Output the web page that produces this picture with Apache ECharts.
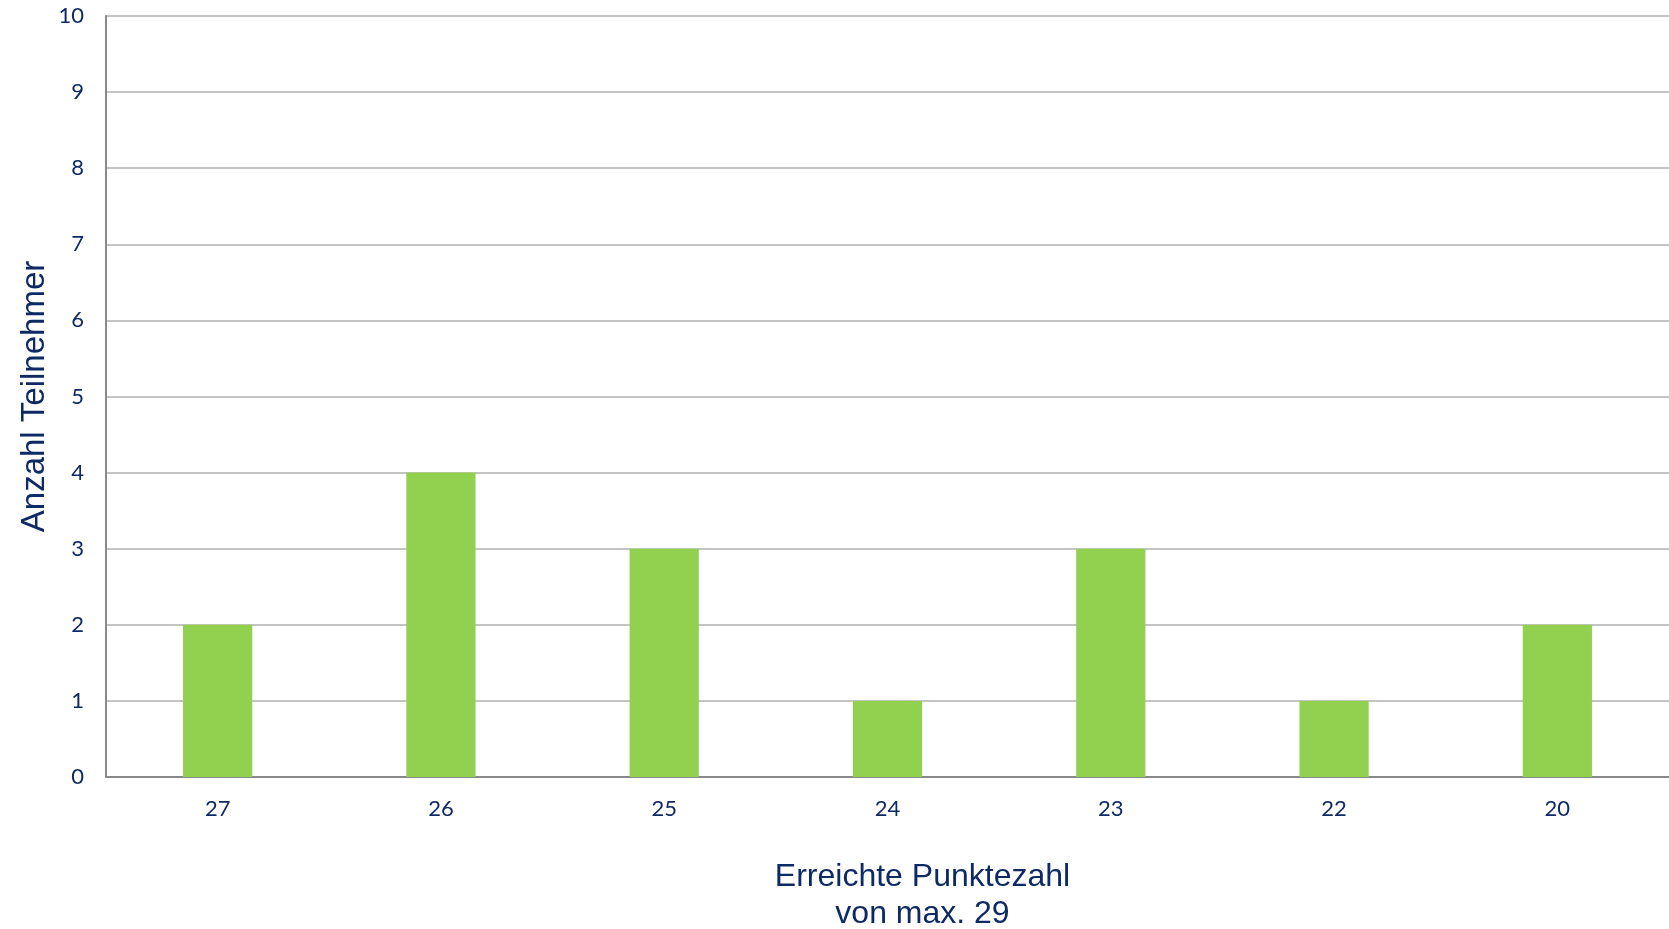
<!DOCTYPE html>
<html>
<head>
<meta charset="utf-8">
<script src="https://cdn.jsdelivr.net/npm/echarts@6/dist/echarts.min.js"></script>
<style>html,body{margin:0;padding:0;background:#fff}#c{width:1669px;height:929px}</style>
</head>
<body>
<div id="c"></div>
<script>
const categories = ['27', '26', '25', '24', '23', '22', '20'];
const values = [2, 4, 3, 1, 3, 1, 2];
const yTicks = [0, 1, 2, 3, 4, 5, 6, 7, 8, 9, 10];
const xTitle = 'Erreichte Punktezahl\nvon max. 29';
const yTitle = 'Anzahl Teilnehmer';

const navy = '#0e2a64';
const chart = echarts.init(document.getElementById('c'));
chart.setOption({
  animation: false,
  grid: { left: 106, right: 0, top: 16, bottom: 152, containLabel: false, outerBoundsMode: 'none' },
  xAxis: {
    type: 'category',
    data: categories,
    axisLine: { lineStyle: { color: '#898989', width: 2 } },
    axisTick: { show: false },
    axisLabel: { color: navy, fontFamily: 'Lato', fontSize: 22, margin: 21 },
    name: xTitle,
    nameLocation: 'middle',
    nameGap: 82,
    nameMoveOverlap: false,
    nameTextStyle: { color: navy, fontFamily: 'Liberation Sans', fontSize: 32, lineHeight: 37, padding: [0, 0, 0, 70] }
  },
  yAxis: {
    type: 'value',
    min: yTicks[0],
    max: yTicks[yTicks.length - 1],
    interval: 1,
    axisLine: { show: true, lineStyle: { color: '#898989', width: 2 } },
    axisTick: { show: false },
    splitLine: { lineStyle: { color: '#c4c4c4', width: 2 } },
    axisLabel: { color: navy, fontFamily: 'Lato', fontSize: 22, margin: 22 },
    name: yTitle,
    nameLocation: 'middle',
    nameGap: 55,
    nameMoveOverlap: false,
    nameTextStyle: { color: navy, fontFamily: 'Liberation Sans', fontSize: 33 }
  },
  series: [{
    type: 'bar',
    data: values,
    barWidth: '31%',
    itemStyle: { color: '#92d050' }
  }]
});
</script>
</body>
</html>
